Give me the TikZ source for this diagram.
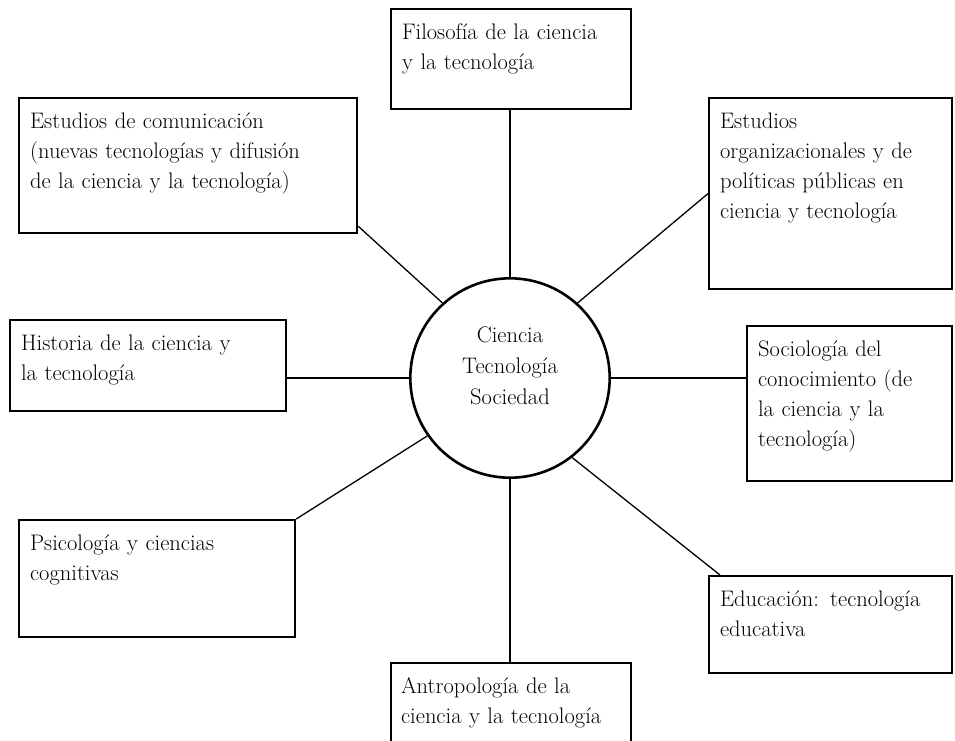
\documentclass[tikz,border=0pt]{standalone}
\usepackage{tikz}
\tikzset{
  areabox/.style={draw, line width=2.2pt, anchor=north west, align=left,
    inner xsep=11pt, inner ysep=14pt, text height=16pt,
    font=\fontsize{22.5}{30}\selectfont},
  hub/.style={draw, circle, line width=2.6pt, minimum size=198pt,
    align=center, text width=160pt, text height=16pt, text depth=88pt,
    font=\fontsize{22.5}{31}\selectfont},
  link/.style={line width=1.3pt},
}
\begin{document}
\begin{tikzpicture}[x=1pt,y=-1pt]
\useasboundingbox (0,0) rectangle (955,740);
\clip (0,0) rectangle (955,740);
% Central circle
\node[hub] (cts) at (510,378) {Ciencia\\Tecnología\\Sociedad};
% Fields around it
\node[areabox, text width=218pt, text depth=56pt] (filo) at (390,8)
{Filosofía de la ciencia\\y la tecnología};
\node[areabox, text width=316pt, text depth=91pt] (comu) at (18,97)
{Estudios de comunicación\\(nuevas tecnologías y difusión\\de la ciencia y la tecnología)};
\node[areabox, text width=221pt, text depth=147pt] (orga) at (708,97)
{Estudios\\organizacionales y de\\políticas públicas en\\ciencia y tecnología};
\node[areabox, text width=254pt, text depth=47pt] (hist) at (9,319)
{Historia de la ciencia y\\la tecnología};
\node[areabox, text width=183pt, text depth=111pt] (soci) at (746,325)
{Sociología del\\conocimiento (de\\la ciencia y la\\tecnología)};
\node[areabox, text width=254pt, text depth=73pt] (psic) at (18,519)
{Psicología y ciencias\\cognitivas};
\node[areabox, text width=221pt, text depth=53pt] (educ) at (708,575)
{Educación: tecnología\\educativa};
\node[areabox, inner xsep=10pt, text width=220pt, text depth=60pt] (antr) at (390,662)
{Antropología de la\\ciencia y la tecnología};
% Links to the centre
\draw[link] (cts.north) -- (cts.north |- filo.south);
\draw[link] (cts.132) -- ([yshift=8pt]comu.south east);
\draw[link] (cts.48) -- (orga.west);
\draw[link] (cts.west) -- (cts.west -| hist.east);
\draw[link] (cts.east) -- (cts.east -| soci.west);
\draw[link] (cts.215) -- (psic.north east);
\draw[link] (cts.-52) -- ([xshift=12pt]educ.north west);
\draw[link] (cts.south) -- (cts.south |- antr.north);
\end{tikzpicture}
\end{document}
